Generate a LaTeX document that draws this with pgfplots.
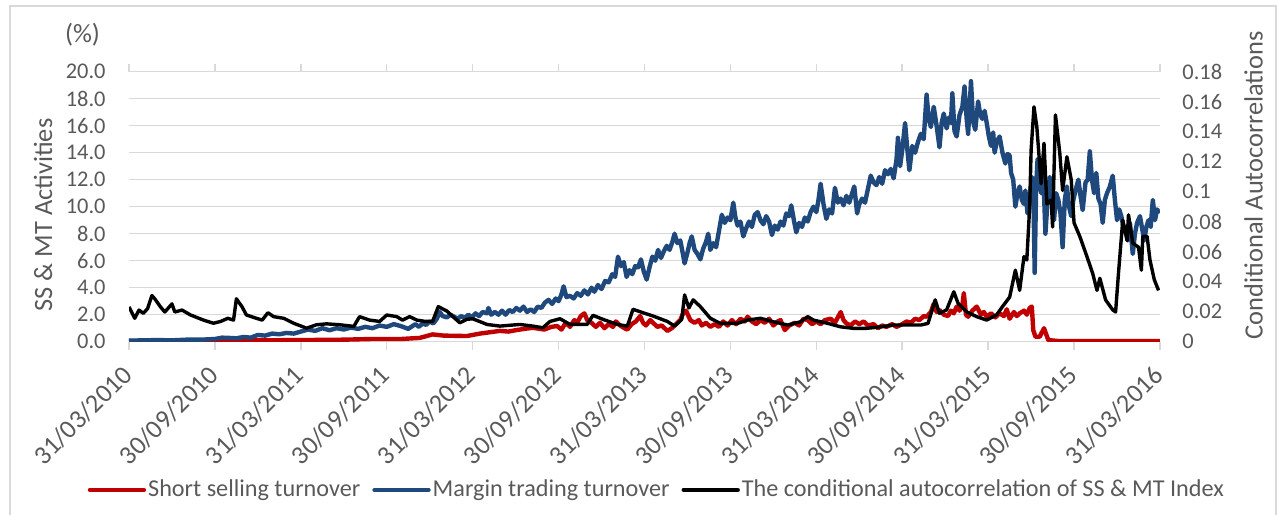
\documentclass[border=0pt]{standalone}
\usepackage{pgfplots}
\pgfplotsset{compat=1.18}
\usepackage{fontspec}
\setmainfont{Carlito}
\definecolor{txt}{HTML}{595959}
\definecolor{gridc}{HTML}{D9D9D9}
\definecolor{ssred}{HTML}{C00000}
\definecolor{mtblue}{HTML}{1F497D}
\begin{document}
\begin{tikzpicture}
\path (-64.5pt,-86.65pt) rectangle (575pt,170.85pt);
\draw[gridc, line width=0.75pt] (-59.5pt,-86.65pt) -- (-59.5pt,167.85pt) -- (573.5pt,167.85pt) -- (573.5pt,-86.65pt);
\begin{axis}[
  at={(0pt,0pt)}, anchor=south west,
  scale only axis, width=515.5pt, height=135pt,
  xmin=0, xmax=72, ymin=0, ymax=20,
  clip mode=individual,
  axis line style={draw=none},
  ymajorgrids, grid style={gridc, line width=0.75pt},
  ytick={0,2,...,20},
  xtick={0,6,...,72},
  xticklabels={31/03/2010,30/09/2010,31/03/2011,30/09/2011,31/03/2012,30/09/2012,31/03/2013,30/09/2013,31/03/2014,30/09/2014,31/03/2015,30/09/2015,31/03/2016},
  xtick align=outside,
  xtick style={draw=gridc, line width=0.75pt},
  ytick style={draw=none},
  major tick length=4pt,
  xticklabel style={text=txt, font=\fontsize{13.1}{15}\selectfont, rotate=45, anchor=east, inner sep=0pt, xshift=-7.8pt, yshift=-6.9pt},
  yticklabel style={text=txt, font=\fontsize{11.2}{13}\selectfont, anchor=east, inner sep=0pt, xshift=-11.5pt},
  /pgf/number format/.cd, fixed, fixed zerofill, precision=1, assume math mode=true, /pgfplots/.cd,
  ylabel={SS \& MT Activities},
  ylabel style={at={(axis description cs:-0.0834,0.469)}, anchor=center, text=txt, font=\fontsize{13.2}{15}\selectfont},
  legend style={at={(axis description cs:0.512,-0.549)}, anchor=center, draw=none, fill=none,
    legend columns=3, font=\fontsize{12.1}{14}\selectfont, text=txt,
    /tikz/every even column/.append style={column sep=5pt},
    nodes={inner xsep=1pt}},
  legend image code/.code={\draw[#1, line cap=round] (0pt,0pt) -- (27pt,0pt);},
]
\node[text=txt, font=\fontsize{13.2}{15}\selectfont] at (axis description cs:-0.0451,1.136) {(\%)};
\addplot[ssred, line width=2.2pt, line join=round] coordinates {
(0,0.05)(3,0.07)(6,0.08)(9,0.1)(12,0.12)(15,0.15)(17,0.2)(19,0.2)(20.3,0.28)(21.2,0.54)(22,0.45)(23.6,0.42)(24.5,0.6)(25.2,0.7)(25.9,0.8)(26.5,0.75)(27,0.85)(27.6,0.95)(28.2,1.03)(29,0.9)(29.5,1.1)(29.9,1.16)(30.2,0.9)(30.5,1.4)(30.8,1.1)(31.1,1.6)(31.3,1.4)(31.55,1.9)(31.8,2.1)(32.0,1.6)(32.3,1.4)(32.6,1.1)(32.9,1.4)(33.2,1.0)(33.5,1.3)(33.8,1.1)(34.0,1.5)(34.3,1.2)(34.6,1.0)(34.8,0.9)(35.1,1.3)(35.4,1.5)(35.7,1.9)(35.9,1.4)(36.1,1.2)(36.4,1.6)(36.6,1.4)(36.9,1.1)(37.2,1.2)(37.6,0.8)(37.9,1.0)(38.2,1.3)(38.5,1.6)(38.7,2.1)(38.9,2.3)(39.2,1.6)(39.5,1.4)(39.8,1.6)(40.0,1.2)(40.3,1.4)(40.6,1.1)(40.9,1.3)(41.2,1.1)(41.5,1.5)(41.8,1.2)(42.1,1.6)(42.4,1.3)(42.7,1.7)(43.0,1.5)(43.2,1.85)(43.5,1.5)(43.8,1.3)(44.1,1.6)(44.4,1.4)(44.7,1.7)(45.0,1.2)(45.3,1.5)(45.5,1.6)(45.8,0.86)(46.1,1.2)(46.5,1.4)(46.8,1.2)(47.1,1.7)(47.4,1.6)(47.7,1.3)(48.0,1.5)(48.3,1.3)(48.6,1.6)(49.0,1.7)(49.3,1.4)(49.7,2.2)(49.9,1.6)(50.1,1.36)(50.4,1.2)(50.7,1.5)(51.0,1.3)(51.3,1.5)(51.6,1.2)(52.0,1.3)(52.3,1.0)(52.6,1.2)(52.9,1.1)(53.3,1.3)(53.6,1.1)(54.0,1.3)(54.3,1.5)(54.6,1.4)(54.9,1.7)(55.2,1.6)(55.5,1.9)(55.7,1.85)(56.0,2.2)(56.2,2.8)(56.4,2.2)(56.6,2.35)(56.9,2.0)(57.2,1.9)(57.4,2.3)(57.6,2.1)(57.8,2.6)(58.0,2.3)(58.2,2.7)(58.3,3.6)(58.45,2.0)(58.6,1.85)(58.9,2.3)(59.2,2.6)(59.5,2.0)(59.7,2.2)(59.9,1.85)(60.2,2.1)(60.5,1.8)(60.8,2.1)(61.1,1.9)(61.3,2.4)(61.5,1.7)(61.8,2.2)(62.0,1.9)(62.2,2.1)(62.5,2.3)(62.7,2.0)(62.9,2.5)(63.05,2.6)(63.15,0.86)(63.3,0.37)(63.6,0.37)(63.9,1.0)(64.2,0.12)(64.9,0.05)(72,0.05)
};
\addlegendentry{Short selling turnover}
\addplot[mtblue, line width=2.2pt, line join=round] coordinates {
(0,0.08)(1,0.1)(2,0.12)(3,0.1)(4,0.15)(5,0.15)(6,0.2)(6.5,0.3)(7,0.28)(7.5,0.25)(8,0.35)(8.5,0.3)(9,0.5)(9.5,0.45)(10,0.6)(10.5,0.55)(11,0.65)(11.5,0.6)(12,0.75)(12.5,0.9)(13,0.8)(13.5,1.0)(14,0.85)(14.5,1.0)(15,0.9)(15.5,1.05)(16,0.95)(16.5,1.1)(17,1.0)(17.5,1.2)(18,1.1)(18.5,1.3)(19,1.15)(19.5,0.95)
(20.0,1.3)(20.25,1.1)(20.5,1.35)(20.75,1.25)(21.0,1.5)(21.25,1.35)(21.5,1.7)(21.7,2.2)(21.9,1.9)(22.2,1.8)(22.45,2.0)(22.7,1.85)(22.95,1.7)(23.2,1.9)(23.45,1.75)(23.7,2.0)(23.95,1.8)(24.2,2.1)(24.45,1.9)(24.7,2.2)(25.0,2.1)(25.1,2.5)(25.3,2.0)(25.55,2.2)(25.8,2.0)(26.05,2.3)(26.3,2.0)(26.55,2.35)(26.8,2.2)(27.05,2.5)(27.3,2.3)(27.55,2.6)(27.8,2.2)(28.05,2.4)(28.3,2.2)(28.55,2.6)(28.8,2.5)(29.05,2.9)(29.3,3.1)(29.55,2.8)(29.8,3.2)(30.0,3.0)(30.2,3.5)(30.35,4.1)(30.55,3.3)(30.8,3.4)(31.05,3.2)(31.3,3.6)(31.55,3.4)(31.8,3.8)(32.05,3.5)(32.3,4.0)(32.5,3.7)(32.75,4.2)(33.0,3.9)(33.25,4.5)(33.5,4.4)(33.75,5.0)(33.95,4.8)(34.15,6.3)(34.35,5.6)(34.55,5.9)(34.75,4.8)(34.95,5.3)(35.15,5.0)(35.35,5.6)(35.55,5.5)(35.75,6.1)(35.95,5.2)(36.15,4.6)(36.35,5.5)(36.55,6.3)(36.75,6.0)(36.95,6.8)(37.15,6.2)(37.35,6.7)(37.55,7.1)(37.75,6.8)(37.95,7.4)(38.1,8.0)(38.3,7.3)(38.5,7.5)(38.7,6.4)(38.8,5.8)(39.0,6.6)(39.15,7.3)(39.3,7.8)(39.5,6.8)(39.7,6.5)(39.9,6.1)(40.1,6.9)(40.3,7.4)(40.45,8.0)(40.6,6.8)(40.8,7.3)(41.0,7.0)(41.2,8.2)(41.4,9.4)(41.6,8.8)(41.8,9.2)(42.0,9.0)(42.2,10.3)(42.35,9.2)(42.5,8.6)(42.7,8.9)(42.9,7.8)(43.1,8.4)(43.3,8.9)(43.5,8.5)(43.7,9.4)(43.9,9.6)(44.1,9.0)(44.3,8.7)(44.5,9.3)(44.7,8.9)(44.9,7.9)(45.1,8.6)(45.3,8.3)(45.5,8.9)(45.7,8.6)(45.9,9.5)(46.1,9.3)(46.25,10.1)(46.45,8.9)(46.6,8.1)(46.8,8.8)(47.0,8.5)(47.2,9.2)(47.4,8.9)(47.6,9.6)(47.8,10.0)(48.0,9.6)(48.15,10.5)(48.3,11.7)(48.5,10.2)(48.7,9.1)(48.9,9.8)(49.1,9.5)(49.3,11.4)(49.5,10.3)(49.7,10.6)(49.9,10.1)(50.1,10.8)(50.3,10.3)(50.5,11.0)(50.65,11.5)(50.85,9.5)(51.0,10.2)(51.2,10.6)(51.4,10.3)(51.6,11.3)(51.8,12.3)(52.0,11.8)(52.2,11.6)(52.4,12.2)(52.6,11.7)(52.8,12.7)(53.0,12.4)(53.2,12.8)(53.4,12.1)(53.6,13.5)(53.7,15.1)(53.85,13.0)(54.0,14.2)(54.2,16.2)(54.35,14.3)(54.5,12.7)(54.7,14.5)(54.9,14.0)(55.1,14.8)(55.3,15.4)(55.5,15.0)(55.7,18.3)(55.85,16.5)(56.0,15.9)(56.2,17.4)(56.4,16.0)(56.6,14.4)(56.75,16.2)(56.9,16.9)(57.1,15.8)(57.25,16.6)(57.4,16.2)(57.5,18.4)(57.65,15.6)(57.8,15.2)(58.0,16.8)(58.2,17.4)(58.35,18.9)(58.5,16.5)(58.6,15.4)(58.7,17.2)(58.8,19.3)(58.95,16.3)(59.1,15.7)(59.3,17.8)(59.45,16.8)(59.6,16.5)(59.75,17.1)(59.9,16.2)(60.05,15.2)(60.2,14.5)(60.35,15.5)(60.45,14.0)(60.6,14.8)(60.8,15.2)(61.0,14.0)(61.2,13.2)(61.35,13.9)(61.5,13.8)(61.6,12.5)(61.75,12.0)(61.9,10.0)(62.05,11.0)(62.2,11.5)(62.35,10.5)(62.5,10.2)(62.6,11.2)(62.75,9.5)(62.9,10.5)(63.05,12.2)(63.15,11.5)(63.25,5.1)(63.35,11.5)(63.45,13.5)(63.6,12.0)(63.7,11.0)(63.85,12.5)(64.0,8.0)(64.15,10.5)(64.3,12.2)(64.45,10.5)(64.6,9.0)(64.75,11.0)(64.9,10.5)(65.05,9.5)(65.2,7.0)(65.35,10.5)(65.5,11.5)(65.65,10.0)(65.8,9.3)(65.95,10.5)(66.1,11.2)(66.3,12.0)(66.45,10.8)(66.6,9.75)(66.8,11.8)(66.95,12.0)(67.1,14.1)(67.25,12.0)(67.4,11.0)(67.55,12.5)(67.7,10.6)(67.85,10.2)(68.0,8.8)(68.15,10.5)(68.3,11.0)(68.5,11.5)(68.7,12.3)(68.85,10.5)(69.0,9.0)(69.15,9.8)(69.3,9.3)(69.45,8.5)(69.6,8.5)(69.75,7.5)(69.9,8.8)(70.1,6.5)(70.25,8.0)(70.4,8.8)(70.6,9.3)(70.75,8.4)(70.9,7.5)(71.05,8.5)(71.2,9.0)(71.35,8.5)(71.5,10.5)(71.65,9.0)(71.8,9.8)(71.95,9.5)
};
\addlegendentry{Margin trading turnover}
\addlegendimage{black, line width=2.2pt}
\addlegendentry{The conditional autocorrelation of SS \& MT Index}
\end{axis}
\begin{axis}[
  at={(0pt,0pt)}, anchor=south west,
  scale only axis, width=515.5pt, height=135pt,
  xmin=0, xmax=72, ymin=0, ymax=0.18,
  axis x line=none, axis y line*=right,
  y axis line style={draw=none},
  ytick={0,0.02,...,0.18},
  yticklabels={0,0.02,0.04,0.06,0.08,0.1,0.12,0.14,0.16,0.18},
  ytick style={draw=none},
  yticklabel style={text=txt, font=\fontsize{11.2}{13}\selectfont, anchor=west, inner sep=0pt, xshift=11pt},
  ylabel={Conditional Autocorrelations},
  ylabel style={at={(axis description cs:1.0907,0.58)}, anchor=center, text=txt, font=\fontsize{13.2}{15}\selectfont},
]
\addplot[black, line width=1.7pt, line join=round] coordinates {
(0,0.0232)(0.4,0.0156)(0.7,0.0211)(1.0,0.0189)(1.3,0.0221)(1.6,0.0308)(1.8,0.0286)(2.2,0.0232)(2.5,0.0198)(3.0,0.0252)(3.2,0.0198)(3.7,0.0211)(4.3,0.0178)(5.2,0.0144)(5.9,0.0123)(6.4,0.0135)(6.9,0.0156)(7.3,0.0144)(7.5,0.0286)(7.9,0.0232)(8.2,0.0178)(8.9,0.0156)(9.3,0.0144)(9.7,0.0193)(10.1,0.0167)(10.8,0.0156)(11.5,0.0123)(12.4,0.0090)(13.1,0.0113)(13.8,0.0119)(14.7,0.0113)(15.7,0.0102)(16.1,0.0167)(16.8,0.0144)(17.5,0.0135)(18.0,0.0178)(18.7,0.0167)(19.1,0.0144)(19.6,0.0167)(20.1,0.0144)(20.7,0.0135)(21.2,0.0135)(21.6,0.0234)(22.2,0.0204)(23.1,0.0126)(23.6,0.0149)(24.0,0.0153)(25.0,0.0115)(25.9,0.0104)(27.3,0.0115)(28.2,0.0104)(28.9,0.0093)(29.4,0.0135)(30.1,0.0153)(30.8,0.0115)(32.0,0.0115)(32.4,0.0176)(33.1,0.0149)(34.1,0.0115)(34.8,0.0104)(35.2,0.0216)(35.9,0.0193)(36.6,0.0171)(37.6,0.0135)(38.1,0.0104)(38.6,0.0149)(38.8,0.0312)(39.1,0.0225)(39.4,0.0279)(39.9,0.0234)(40.6,0.0156)(41.3,0.0122)(42.5,0.0122)(43.2,0.0144)(44.1,0.0156)(45.0,0.0133)(46.0,0.0111)(46.9,0.0133)(47.4,0.0167)(47.8,0.0144)(48.8,0.0122)(49.7,0.0099)(50.6,0.0089)(51.5,0.0089)(52.5,0.0099)(53.4,0.0111)(54.3,0.0111)(55.3,0.0111)(55.8,0.0122)(56.3,0.0279)(56.6,0.0189)(57.1,0.0212)(57.6,0.0333)(57.9,0.0256)(58.5,0.0198)(59.2,0.0167)(59.9,0.0144)(60.6,0.0180)(61.0,0.0234)(61.5,0.0297)(61.9,0.0477)(62.2,0.0342)(62.5,0.0567)(62.7,0.0545)(62.9,0.0900)(63.0,0.1278)(63.2,0.1566)(63.4,0.1431)(63.7,0.1053)(63.9,0.1323)(64.1,0.0918)(64.4,0.0945)(64.5,0.0765)(64.7,0.1512)(65.0,0.1260)(65.2,0.1008)(65.5,0.1233)(65.8,0.1080)(66.0,0.0792)(66.4,0.0702)(66.9,0.0567)(67.3,0.0455)(67.6,0.0342)(67.8,0.0423)(68.2,0.0279)(68.7,0.0212)(68.9,0.0198)(69.1,0.0455)(69.4,0.0810)(69.7,0.0675)(69.8,0.0846)(70.1,0.0657)(70.5,0.0630)(70.7,0.0477)(70.8,0.0702)(71.1,0.0702)(71.3,0.0545)(71.6,0.0414)(71.9,0.0342)
};
\end{axis}
\end{tikzpicture}
\end{document}
